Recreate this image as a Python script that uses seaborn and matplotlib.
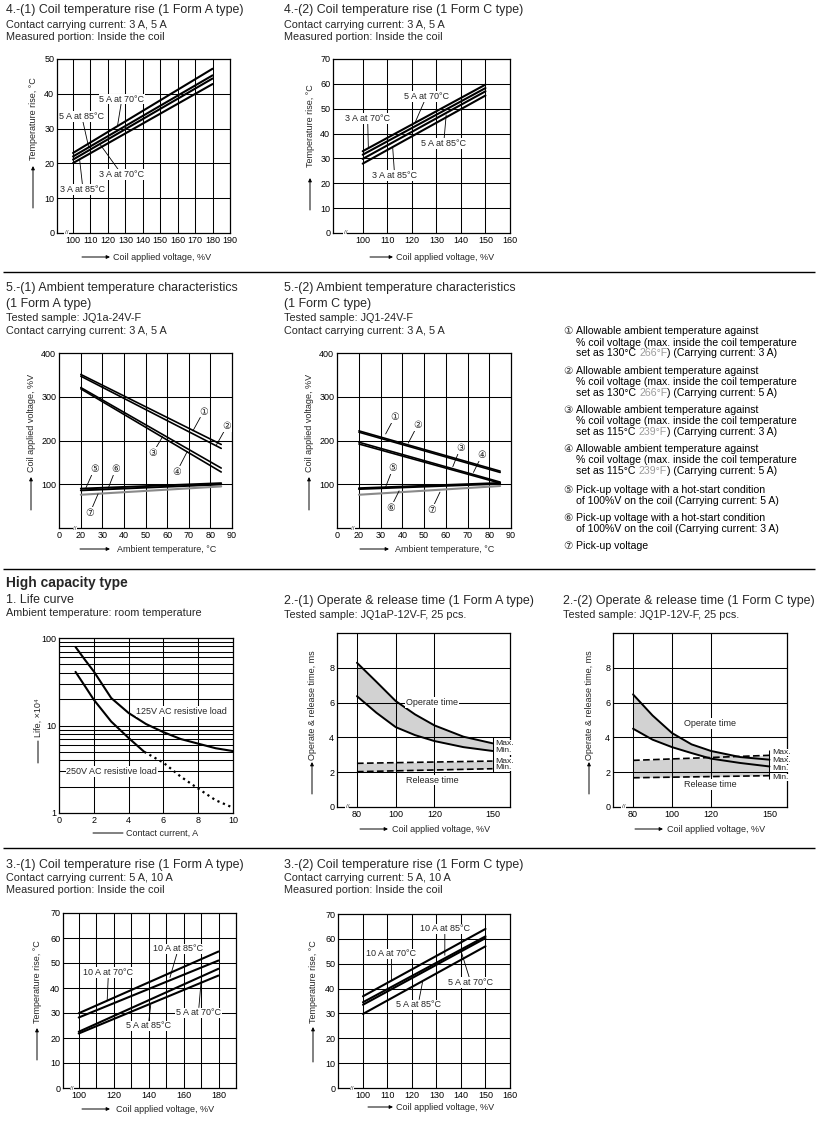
import numpy as np
import pandas as pd
import matplotlib
matplotlib.use("Agg")
import matplotlib.pyplot as plt
import seaborn as sns

W, H = 822, 1121

# 4.-(1) coil temperature rise, 1 Form A, 3 A / 5 A
fa_volt = [100, 180]
fa_5a70 = [23.0, 47.2]
fa_5a85 = [22.0, 45.3]
fa_3a70 = [21.1, 44.4]
fa_3a85 = [20.1, 42.8]

# 4.-(2) coil temperature rise, 1 Form C, 3 A / 5 A
fc_volt = [100, 150]
fc_5a70 = [32.9, 59.7]
fc_3a70 = [31.5, 58.3]
fc_5a85 = [29.8, 57.0]
fc_3a85 = [27.9, 55.3]

# 5. ambient temperature characteristics (curves 1..7)
amb_temp = [20, 85]
amb_a1 = [351, 191]
amb_a2 = [347, 182]
amb_a3 = [321, 137]
amb_a4 = [318, 128]
amb_a5 = [90, 102.5]
amb_a6 = [86, 99.5]
amb_a7 = [76, 95]
amb_c1 = [222, 130]
amb_c2 = [219, 127]
amb_c3 = [196, 105]
amb_c4 = [192, 102.5]
amb_c5 = [91, 103]
amb_c6 = [89, 101]
amb_c7 = [76, 96]

# 1. life curve
life_i125 = [0.95, 1.5, 2, 3, 4, 5, 6, 7, 8, 9, 10]
life_125 = [79, 56, 41.5, 20.6, 13.9, 10.4, 8.4, 7.0, 6.2, 5.5, 5.1]
life_i250 = [0.95, 1.5, 2, 3, 4, 4.9]
life_250 = [41, 28, 19.7, 11.1, 7.2, 5.0]
life_i250d = [4.9, 6, 7, 8, 9, 10]
life_250d = [5.0, 3.76, 2.6, 1.9, 1.4, 1.15]

# 2. operate & release time
op_volt = [80, 90, 100, 110, 120, 135, 150]
opA_max = [8.29, 7.2, 6.09, 5.32, 4.69, 4.04, 3.66]
opA_min = [6.37, 5.42, 4.59, 4.13, 3.79, 3.44, 3.22]
opC_max = [6.47, 5.26, 4.25, 3.6, 3.22, 2.87, 2.72]
opC_min = [4.5, 3.87, 3.44, 3.1, 2.78, 2.53, 2.33]
rel_volt = [80, 150]
relA_max = [2.51, 2.64]
relA_min = [2.03, 2.2]
relC_max = [2.68, 2.97]
relC_min = [1.68, 1.8]

# 3. coil temperature rise, 5 A / 10 A
ha_volt = [100, 180]
ha_10a85 = [29.9, 54.6]
ha_10a70 = [28.2, 51.0]
ha_5a70 = [22.5, 47.7]
ha_5a85 = [21.8, 45.0]
hc_volt = [100, 150]
hc_10a85 = [36.9, 64.0]
hc_10a70 = [34.5, 61.0]
hc_5a70 = [33.5, 60.3]
hc_5a85 = [29.8, 57.0]

sns.set_theme(style="white")
plt.rcParams["font.family"] = ["Liberation Sans", "DejaVu Sans"]
CIRC = ["Liberation Sans", "DejaVu Sans"]
TICK = 6.5
ANN = 6.5

fig = plt.figure(figsize=(W / 100, H / 100), dpi=100)
ov = fig.add_axes([0, 0, 1, 1])
ov.set_xlim(0, W)
ov.set_ylim(H, 0)
ov.axis("off")


def panel(l, t, r, b):
    ax = fig.add_axes([l / W, 1 - b / H, (r - l) / W, (b - t) / H])
    for s in ax.spines.values():
        s.set_color("black")
        s.set_linewidth(0.9)
        s.set_visible(True)
    ax.tick_params(length=0, labelsize=TICK, pad=2, colors="black")
    return ax


def grid(ax, gx, gy):
    for v in gx:
        ax.axvline(v, color="black", lw=0.75, zorder=1)
    for v in gy:
        ax.axhline(v, color="black", lw=0.75, zorder=1)


def draw(ax, x, series, color="black", lw=1.5, ls="-"):
    names = list(series.keys())
    df = pd.DataFrame({
        "x": np.tile(x, len(names)),
        "y": np.concatenate([series[n] for n in names]),
        "name": np.repeat(names, len(x)),
    })
    sns.lineplot(data=df, x="x", y="y", units="name", estimator=None, color=color,
                 linewidth=lw, linestyle=ls, ax=ax, legend=False, zorder=3)


def finish(ax, xlim, ylim, xt, xl, yt, yl):
    ax.set_xlim(*xlim)
    ax.set_ylim(*ylim)
    ax.set_xticks(xt)
    ax.set_xticklabels(xl)
    ax.set_yticks(yt)
    ax.set_yticklabels(yl)
    ax.set_xlabel("")
    ax.set_ylabel("")


def callout(ax, text, txy, exy, fs=ANN):
    ax.annotate(text, xy=exy, xytext=txy, fontsize=fs, ha="center", va="center",
                family=CIRC, zorder=6,
                bbox=dict(boxstyle="square,pad=0.08", fc="white", ec="none"),
                arrowprops=dict(arrowstyle="-", lw=0.6, color="black", shrinkA=0, shrinkB=0))


def brk(ax, fx):
    ax.text(fx, 0, "//", transform=ax.transAxes, fontsize=4.5, ha="center", va="center",
            bbox=dict(boxstyle="square,pad=0.05", fc="white", ec="none"), zorder=7)


def ylab(x, ytext, ytail, yhead, text, head=True):
    ov.text(x, ytext, text, rotation=90, ha="center", va="bottom", fontsize=TICK)
    ov.annotate("", xy=(x, yhead), xytext=(x, ytail),
                arrowprops=dict(arrowstyle="-|>" if head else "-", lw=0.7, color="black",
                                shrinkA=0, shrinkB=0, mutation_scale=5))


def xlab(y, xtail, xhead, xtext, text, head=True):
    ov.text(xtext, y, text, ha="left", va="center", fontsize=TICK)
    ov.annotate("", xy=(xhead, y), xytext=(xtail, y),
                arrowprops=dict(arrowstyle="-|>" if head else "-", lw=0.7, color="black",
                                shrinkA=0, shrinkB=0, mutation_scale=5))


# ---------- headings ----------
T1, T2 = 8.9, 7.8
heads = [
    (6, 10.5, "4.-(1) Coil temperature rise (1 Form A type)", T1),
    (6, 25, "Contact carrying current: 3 A, 5 A", T2),
    (6, 36.5, "Measured portion: Inside the coil", T2),
    (284, 10.5, "4.-(2) Coil temperature rise (1 Form C type)", T1),
    (284, 25, "Contact carrying current: 3 A, 5 A", T2),
    (284, 36.5, "Measured portion: Inside the coil", T2),
    (6, 288, "5.-(1) Ambient temperature characteristics", T1),
    (6, 303.5, "(1 Form A type)", T1),
    (6, 318, "Tested sample: JQ1a-24V-F", T2),
    (6, 331.5, "Contact carrying current: 3 A, 5 A", T2),
    (284, 288, "5.-(2) Ambient temperature characteristics", T1),
    (284, 303.5, "(1 Form C type)", T1),
    (284, 318, "Tested sample: JQ1-24V-F", T2),
    (284, 331.5, "Contact carrying current: 3 A, 5 A", T2),
    (6, 600, "1. Life curve", T1),
    (6, 613.5, "Ambient temperature: room temperature", T2),
    (284, 601, "2.-(1) Operate & release time (1 Form A type)", T1),
    (284, 615, "Tested sample: JQ1aP-12V-F, 25 pcs.", T2),
    (563, 601, "2.-(2) Operate & release time (1 Form C type)", T1),
    (563, 615, "Tested sample: JQ1P-12V-F, 25 pcs.", T2),
    (6, 865, "3.-(1) Coil temperature rise (1 Form A type)", T1),
    (6, 878, "Contact carrying current: 5 A, 10 A", T2),
    (6, 890, "Measured portion: Inside the coil", T2),
    (284, 865, "3.-(2) Coil temperature rise (1 Form C type)", T1),
    (284, 878, "Contact carrying current: 5 A, 10 A", T2),
    (284, 890, "Measured portion: Inside the coil", T2),
]
for x, y, s, fs in heads:
    ov.text(x, y, s, fontsize=fs, ha="left", va="center")
ov.text(6, 583, "High capacity type", fontsize=9.9, fontweight="bold", ha="left", va="center")
ov.hlines([272, 569, 848], 3, 815, color="black", lw=1.0)

# legend block for section 5
renderer = fig.canvas.get_renderer()
LF = 7.55
legend_rows = [
    ("①", [[("Allowable ambient temperature against", "black")],
           [("% coil voltage (max. inside the coil temperature", "black")],
           [("set as 130°C", "black"), ("266°F", "#9a9a9a"), (") (Carrying current: 3 A)", "black")]]),
    ("②", [[("Allowable ambient temperature against", "black")],
           [("% coil voltage (max. inside the coil temperature", "black")],
           [("set as 130°C", "black"), ("266°F", "#9a9a9a"), (") (Carrying current: 5 A)", "black")]]),
    ("③", [[("Allowable ambient temperature against", "black")],
           [("% coil voltage (max. inside the coil temperature", "black")],
           [("set as 115°C", "black"), ("239°F", "#9a9a9a"), (") (Carrying current: 3 A)", "black")]]),
    ("④", [[("Allowable ambient temperature against", "black")],
           [("% coil voltage (max. inside the coil temperature", "black")],
           [("set as 115°C", "black"), ("239°F", "#9a9a9a"), (") (Carrying current: 5 A)", "black")]]),
    ("⑤", [[("Pick-up voltage with a hot-start condition", "black")],
           [("of 100%V on the coil (Carrying current: 5 A)", "black")]]),
    ("⑥", [[("Pick-up voltage with a hot-start condition", "black")],
           [("of 100%V on the coil (Carrying current: 3 A)", "black")]]),
    ("⑦", [[("Pick-up voltage", "black")]]),
]
row_y = [[331.5, 342.5, 353.5], [371, 382, 393], [410, 421, 432], [449, 460, 471.5],
         [490, 501], [518, 529], [546]]
for (num, lines), ys in zip(legend_rows, row_y):
    ov.text(563, ys[0], num, fontsize=LF, family=CIRC, ha="left", va="center")
    for parts, y in zip(lines, ys):
        x = 576
        for k, (s, c) in enumerate(parts):
            t = ov.text(x, y, s, fontsize=LF, color=c, ha="left", va="center")
            w = t.get_window_extent(renderer).width
            x = x + w + (3.0 if k == 0 and len(parts) > 1 else 0)

# ---------- 4.-(1) ----------
ax = panel(57, 59, 230, 233)
grid(ax, range(100, 190, 10), range(10, 50, 10))
draw(ax, fa_volt, {"5 A at 70°C": fa_5a70, "5 A at 85°C": fa_5a85,
                   "3 A at 70°C": fa_3a70, "3 A at 85°C": fa_3a85})
finish(ax, (90.8, 190), (0, 50), range(100, 200, 10), [str(v) for v in range(100, 200, 10)],
       range(0, 60, 10), [str(v) for v in range(0, 60, 10)])
callout(ax, "5 A at 70°C", (128, 38.5), (125.5, 30.8))
callout(ax, "5 A at 85°C", (105, 33.5), (109, 24.6))
callout(ax, "3 A at 70°C", (128, 16.8), (115.6, 25.4))
callout(ax, "3 A at 85°C", (105.7, 12.5), (103.8, 21.0))
brk(ax, 0.055)
ylab(33, 160, 208, 166, "Temperature rise, °C")
xlab(257, 82, 110, 113, "Coil applied voltage, %V")

# ---------- 4.-(2) ----------
ax = panel(333, 59, 510, 233)
grid(ax, range(100, 160, 10), range(10, 70, 10))
draw(ax, fc_volt, {"5 A at 70°C": fc_5a70, "3 A at 70°C": fc_3a70,
                   "5 A at 85°C": fc_5a85, "3 A at 85°C": fc_3a85})
finish(ax, (87.9, 160), (0, 70), range(100, 170, 10), [str(v) for v in range(100, 170, 10)],
       range(0, 80, 10), [str(v) for v in range(0, 80, 10)])
callout(ax, "5 A at 70°C", (126, 55), (121.5, 44.8))
callout(ax, "3 A at 70°C", (102, 46), (102.3, 34.4))
callout(ax, "5 A at 85°C", (133, 36), (134, 47.5))
callout(ax, "3 A at 85°C", (113, 23.2), (112.2, 34.6))
brk(ax, 0.07)
ylab(310, 167, 210, 178, "Temperature rise, °C")
xlab(257, 370, 393, 396, "Coil applied voltage, %V")

# ---------- 5.-(1) / 5.-(2) ----------
amb_sets = [
    (59, 232, (amb_a1, amb_a2, amb_a3, amb_a4, amb_a5, amb_a6, amb_a7),
     [("①", (76.8, 266), (71.9, 222)), ("②", (87.7, 233), (82.8, 190)),
      ("③", (53.3, 171), (57.9, 209)), ("④", (64.4, 128), (69.3, 175)),
      ("⑤", (26.2, 134), (22.3, 91)), ("⑥", (36.1, 134), (32.7, 91)),
      ("⑦", (24.2, 34), (28, 78))], 31, 117, 80, 110),
    (337, 511, (amb_c1, amb_c2, amb_c3, amb_c4, amb_c5, amb_c6, amb_c7),
     [("①", (36.5, 254), (32.3, 215)), ("②", (47, 235), (42.7, 194)),
      ("③", (66.6, 182), (63.2, 140)), ("④", (76.6, 166), (72.7, 127)),
      ("⑤", (35.7, 137), (32.3, 94)), ("⑥", (34.6, 46), (38.5, 85)),
      ("⑦", (53.5, 42), (57.3, 82))], 309, 395, 360, 389),
]
for l, r, curves, labels, yx, xt, xa, xb in amb_sets:
    ax = panel(l, 353, r, 528)
    grid(ax, range(20, 90, 10), [100, 200, 300])
    draw(ax, amb_temp, {"1": curves[0], "2": curves[1], "3": curves[2], "4": curves[3]}, lw=1.2)
    draw(ax, amb_temp, {"5": curves[4], "6": curves[5]}, lw=1.4)
    draw(ax, amb_temp, {"7": curves[6]}, color="#8a8a8a", lw=1.5)
    finish(ax, (9.9, 90), (0, 400), range(10, 100, 10),
           ["0"] + [str(v) for v in range(20, 100, 10)], [100, 200, 300, 400],
           ["100", "200", "300", "400"])
    for s, txy, exy in labels:
        callout(ax, s, txy, exy, fs=7)
    brk(ax, 0.09)
    ylab(yx, 472, 510, 477, "Coil applied voltage, %V")
    xlab(549, xa, xb, xt, "Ambient temperature, °C")

# ---------- 1. life curve ----------
ax = panel(59, 638, 233, 813)
ax.set_yscale("log")
grid(ax, [2, 4, 6, 8], [2, 3, 4, 5, 6, 7, 8, 9, 10, 20, 30, 40, 50, 60, 70, 80, 90])
draw(ax, life_i125, {"125V": life_125})
draw(ax, life_i250, {"250V": life_250})
draw(ax, life_i250d, {"250V dotted": life_250d}, ls=":", lw=1.6)
finish(ax, (0, 10), (1, 100), range(0, 12, 2), [str(v) for v in range(0, 12, 2)],
       [1, 10, 100], ["1", "10", "100"])
ax.yaxis.set_minor_locator(matplotlib.ticker.NullLocator())
ax.text(7.06, 14.5, "125V AC resistive load", fontsize=ANN, ha="center", va="center",
        bbox=dict(boxstyle="square,pad=0.1", fc="white", ec="none"), zorder=5)
ax.text(3.04, 2.97, "250V AC resistive load", fontsize=ANN, ha="center", va="center",
        bbox=dict(boxstyle="square,pad=0.1", fc="white", ec="none"), zorder=5)
ylab(38, 737, 763, 741, "Life, ×10⁴", head=False)
xlab(833, 93, 123, 126, "Contact current, A", head=False)

# ---------- 2. operate & release time ----------
op_sets = [
    (337, 510, opA_max, opA_min, relA_max, relA_min, (118.6, 6.0), (119, 1.55),
     [3.64, 3.22, 2.64, 2.26], ["Max.", "Min.", "Max.", "Min."], (2.0, 4.0), 312, 360, 388, 392),
    (613, 787, opC_max, opC_min, relC_max, relC_min, (119.5, 4.82), (119.5, 1.3),
     [3.12, 2.68, 2.2, 1.68], ["Max.", "Max.", "Min.", "Min."], (1.63, 3.25), 589, 635, 663, 667),
]
for l, r, omax, omin, rmax, rmin, opxy, relxy, mys, mlabs, seg, yx, xa, xb, xt in op_sets:
    ax = panel(l, 633, r, 807)
    grid(ax, [80, 100, 120], [2, 4, 6, 8])
    ax.vlines(150, seg[0], seg[1], color="black", lw=0.75, zorder=1)
    ax.fill_between(op_volt, omin, omax, color="#d2d2d2", lw=0, zorder=0.5)
    ax.fill_between(rel_volt, rmin, rmax, color="#d2d2d2", lw=0, zorder=0.5)
    draw(ax, op_volt, {"max": omax, "min": omin}, lw=1.4)
    draw(ax, rel_volt, {"max": rmax, "min": rmin}, lw=1.2, ls=(0, (4, 2)))
    finish(ax, (69.7, 159), (0, 10), [80, 100, 120, 150], ["80", "100", "120", "150"],
           [0, 2, 4, 6, 8], ["0", "2", "4", "6", "8"])
    ax.text(opxy[0], opxy[1], "Operate time", fontsize=ANN, ha="center", va="center",
            bbox=dict(boxstyle="square,pad=0.1", fc="white", ec="none"), zorder=5)
    ax.text(relxy[0], relxy[1], "Release time", fontsize=ANN, ha="center", va="center",
            bbox=dict(boxstyle="square,pad=0.1", fc="white", ec="none"), zorder=5)
    for y, s in zip(mys, mlabs):
        ax.text(151.4, y, s, fontsize=6.1, ha="left", va="center", zorder=5, clip_on=False,
                linespacing=0.8,
                bbox=dict(boxstyle="square,pad=0.02", fc="white", ec="none"))
    brk(ax, 0.06)
    ylab(yx, 760, 794, 762, "Operate & release time, ms")
    xlab(829, xa, xb, xt, "Coil applied voltage, %V")

# ---------- 3.-(1) ----------
ax = panel(63, 913, 236, 1088)
grid(ax, range(100, 190, 10), range(10, 70, 10))
draw(ax, ha_volt, {"10 A at 85°C": ha_10a85, "10 A at 70°C": ha_10a70,
                   "5 A at 70°C": ha_5a70, "5 A at 85°C": ha_5a85})
finish(ax, (91, 190), (0, 70), range(100, 200, 20), [str(v) for v in range(100, 200, 20)],
       range(0, 80, 10), [str(v) for v in range(0, 80, 10)])
callout(ax, "10 A at 85°C", (157, 55.7), (152.2, 44.2))
callout(ax, "10 A at 70°C", (117, 46.2), (116.3, 35.2))
callout(ax, "5 A at 70°C", (168.5, 30.1), (170.2, 44.0))
callout(ax, "5 A at 85°C", (139.8, 24.8), (141.2, 33.3))
brk(ax, 0.05)
ylab(37, 1023, 1060, 1028, "Temperature rise, °C")
xlab(1109, 82, 110, 116, "Coil applied voltage, %V")

# ---------- 3.-(2) ----------
ax = panel(338, 914, 510, 1088)
grid(ax, range(100, 160, 10), range(10, 70, 10))
draw(ax, hc_volt, {"10 A at 85°C": hc_10a85, "10 A at 70°C": hc_10a70,
                   "5 A at 70°C": hc_5a70, "5 A at 85°C": hc_5a85})
finish(ax, (89.8, 160), (0, 70), range(100, 170, 10), [str(v) for v in range(100, 170, 10)],
       range(0, 80, 10), [str(v) for v in range(0, 80, 10)])
callout(ax, "10 A at 85°C", (133.4, 64), (133.4, 53.4))
callout(ax, "10 A at 70°C", (111.6, 54), (111.6, 43.4))
callout(ax, "5 A at 70°C", (144, 42.5), (140.2, 54.5))
callout(ax, "5 A at 85°C", (122.5, 33.5), (124.3, 42.6))
brk(ax, 0.08)
ylab(313, 1023, 1062, 1027, "Temperature rise, °C")
xlab(1107, 368, 393, 396, "Coil applied voltage, %V")

fig.savefig("out.png", dpi=100, facecolor="white")
